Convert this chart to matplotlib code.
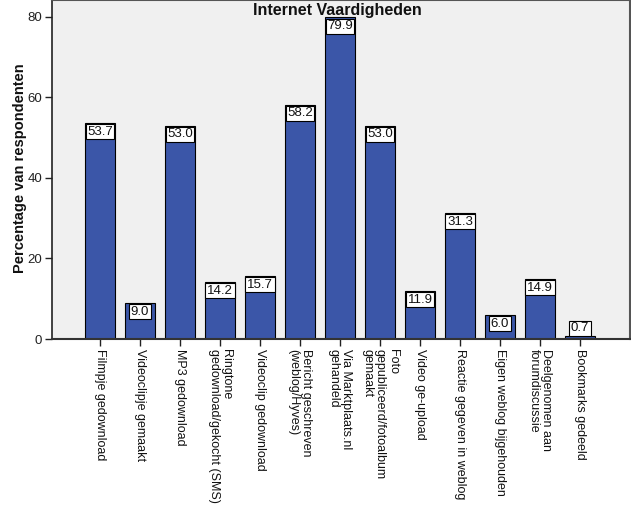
import matplotlib
matplotlib.use("Agg")
import matplotlib.pyplot as plt
import numpy as np

plt.rcParams['font.family'] = ['Liberation Sans', 'DejaVu Sans']

categories = [
    "Filmpje gedownload",
    "Videoclipje gemaakt",
    "MP3 gedownload",
    "Ringtone\ngedownload/gekocht (SMS)",
    "Videoclip gedownload",
    "Bericht geschreven\n(weblog/Hyves)",
    "Via Marktplaats.nl\ngehandeld",
    "Foto\ngepubliceerd/fotoalbum\ngemaakt",
    "Video ge-upload",
    "Reactie gegeven in weblog",
    "Eigen weblog bijgehouden",
    "Deelgenomen aan\nforumdiscussie",
    "Bookmarks gedeeld",
]
values = [53.7, 9.0, 53.0, 14.2, 15.7, 58.2, 79.9, 53.0, 11.9, 31.3, 6.0, 14.9, 0.7]
yticks = [0, 20, 40, 60, 80]
title = "Internet Vaardigheden"
ylabel = "Percentage van respondenten"

W, H = 631, 505
fig = plt.figure(figsize=(W / 100, H / 100), dpi=100)
fig.patch.set_facecolor('white')
ax = fig.add_axes([52 / W, 1 - 339 / H, (630 - 52) / W, 339 / H])
ax.set_facecolor('#f0f0f0')

x = np.arange(len(values))
bars = ax.bar(x, values, width=0.75, color='#3b56a8', edgecolor='black', linewidth=0.8, zorder=2)
ax.set_xlim(-1.2, len(values) - 1 + 1.25)
ax.set_ylim(0, 84.2)

ax.set_yticks(yticks)
ax.set_yticklabels([str(t) for t in yticks], fontsize=9.5, color='#222222')
ax.set_xticks(x)
ax.set_xticklabels(categories, rotation=-90, fontsize=9, ha='center', va='top',
                   multialignment='left', color='#111111', linespacing=1.1)
ax.tick_params(axis='both', direction='out', length=5, width=1, color='#222222')
ax.tick_params(axis='x', pad=2)
ax.tick_params(axis='y', pad=2)

for side in ['top', 'right']:
    ax.spines[side].set_color('#555555')
    ax.spines[side].set_linewidth(1.5)
ax.spines['left'].set_color('#222222')
ax.spines['left'].set_linewidth(1.2)
ax.spines['bottom'].set_color('#333333')
ax.spines['bottom'].set_linewidth(1.5)

# value labels
px_per_unit = 339 / 84.2
for xi, v in zip(x, values):
    top_px = v * px_per_unit
    if top_px > 18:
        ax.annotate(f"{v:.1f}", xy=(xi, v), xytext=(0, -2), textcoords='offset points',
                    ha='center', va='top', fontsize=9.5, color='#111111', zorder=4,
                    bbox=dict(boxstyle='square,pad=0.12', facecolor='white',
                              edgecolor='black', linewidth=0.8))
    else:
        ax.annotate(f"{v:.1f}", xy=(xi, v), xytext=(0, 1.5), textcoords='offset points',
                    ha='center', va='bottom', fontsize=9.5, color='#111111', zorder=4,
                    bbox=dict(boxstyle='square,pad=0.12', facecolor='white',
                              edgecolor='black', linewidth=0.8))

fig.text(337 / W, 1 - 10 / H, title, ha='center', va='center', fontsize=11.5,
         fontweight='bold', color='#111111')
fig.text(20 / W, 1 - 168 / H, ylabel, ha='center', va='center', rotation=90,
         fontsize=10.5, fontweight='bold', color='#111111')

fig.savefig('out.png', dpi=100)
